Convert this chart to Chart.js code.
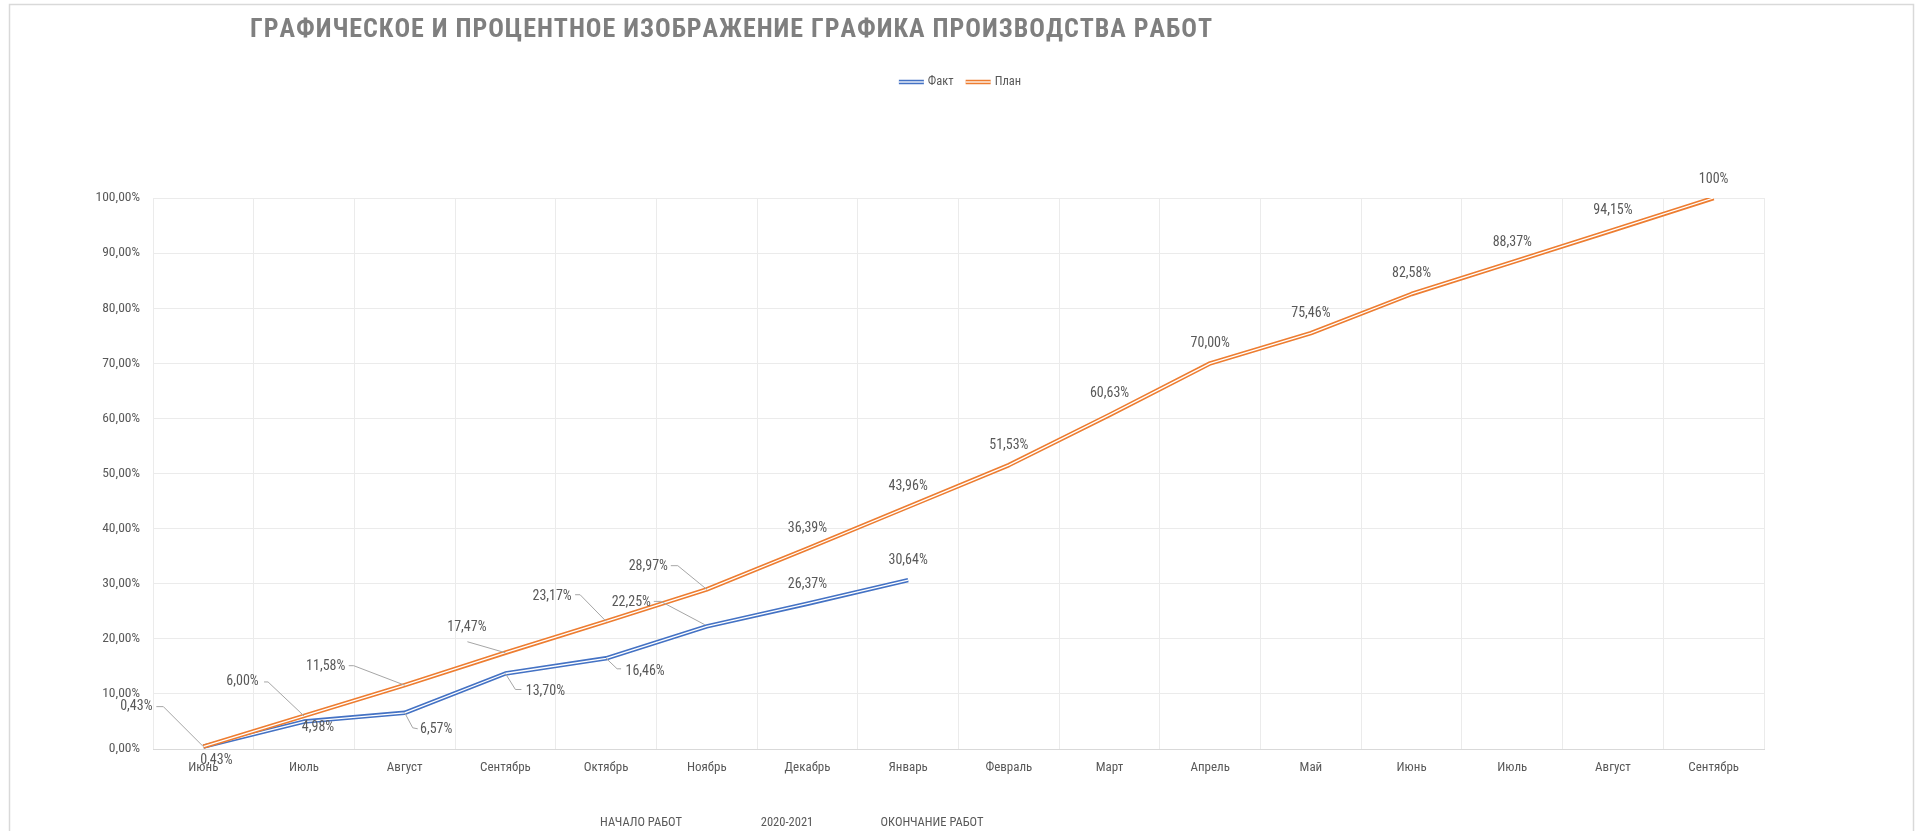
<!DOCTYPE html>
<html>
<head>
<meta charset="utf-8">
<script src="https://cdn.jsdelivr.net/npm/chart.js@4.4.1/dist/chart.umd.min.js"></script>
<style>
  html, body { margin: 0; padding: 0; background: #ffffff; }
  #c { display: block; }
</style>
</head>
<body>
<canvas id="c" width="1919" height="831"></canvas>
<script>
// ---------------- DATA ----------------
const chartTitle = 'ГРАФИЧЕСКОЕ И ПРОЦЕНТНОЕ ИЗОБРАЖЕНИЕ ГРАФИКА ПРОИЗВОДСТВА РАБОТ';
const seriesNames = ['Факт', 'План'];
const categories = ['Июнь', 'Июль', 'Август', 'Сентябрь', 'Октябрь', 'Ноябрь', 'Декабрь', 'Январь',
                    'Февраль', 'Март', 'Апрель', 'Май', 'Июнь', 'Июль', 'Август', 'Сентябрь'];
const factValues = [0.43, 4.98, 6.57, 13.70, 16.46, 22.25, 26.37, 30.64];
const planValues = [0.43, 6.00, 11.58, 17.47, 23.17, 28.97, 36.39, 43.96,
                    51.53, 60.63, 70.00, 75.46, 82.58, 88.37, 94.15, 100];
const yTickMin = 0, yTickMax = 100, yTickStep = 10;
const footerTexts = ['НАЧАЛО РАБОТ', '2020-2021', 'ОКОНЧАНИЕ РАБОТ'];

// ---------------- STYLE / LAYOUT ----------------
const FONT = "'Liberation Sans Narrow', 'Roboto Condensed', 'DejaVu Sans Condensed', Roboto, sans-serif";
const TEXT = '#595959';
const BLUE = '#4472C4';
const ORANGE = '#ED7D31';
const GRID = '#ebebeb';
const LEADER = '#a6a6a6';

// label placement offsets (pixels relative to the point the library computed)
const planLabelPlacement = [
  {dx: -67,   dy: -40,   leader: [[-47, -40], [-40, -40], [0, 0]]},
  {dx: -61.5, dy: -34,   leader: [[-40, -34], [-36, -34], [0, 0]]},
  {dx: -79,   dy: -18.5, leader: [[-56, -19.5], [-51, -19.5], [0, 0]]},
  {dx: -38.5, dy: -25,   leader: [[-38, -11], [0, 0]]},
  {dx: -54,   dy: -24.6, leader: [[-31, -26.6], [-26, -26.6], [0, 0]]},
  {dx: -58.5, dy: -22.7, leader: [[-36, -23.7], [-29, -23.7], [0, 0]]},
  {dx: 0, dy: -20}, {dx: 0, dy: -20}, {dx: 0, dy: -20}, {dx: 0, dy: -21},
  {dx: 0, dy: -20}, {dx: 0, dy: -20}, {dx: 0, dy: -20}, {dx: 0, dy: -20},
  {dx: 0, dy: -20}, {dx: 0, dy: -19}
];
const factLabelPlacement = [
  {dx: 13,    dy: 14},
  {dx: 14,    dy: 6},
  {dx: 31.5,  dy: 17,    leader: [[0, 0], [8, 15], [13, 16]]},
  {dx: 40,    dy: 18,    leader: [[0, 0], [10, 16], [16, 16]]},
  {dx: 39,    dy: 13.4,  leader: [[0, 0], [11, 10.5], [15, 10.5]]},
  {dx: -75.5, dy: -23.7, leader: [[-53, -25], [-46, -25], [-2, -1.7]]},
  {dx: 0, dy: -19},
  {dx: 0, dy: -19.5}
];

function pct(v, decimals) {
  return v.toFixed(decimals).replace('.', ',') + '%';
}
function labelText(v) {
  return v === 100 ? '100%' : pct(v, 2);
}

// ---------------- PLUGINS ----------------
const decorPlugin = {
  id: 'decor',
  beforeDraw(chart) {
    const ctx = chart.ctx;
    ctx.save();
    ctx.fillStyle = '#ffffff';
    ctx.fillRect(0, 0, chart.width, chart.height);
    ctx.strokeStyle = '#d9d9d9';
    ctx.lineWidth = 1.5;
    ctx.strokeRect(9.5, 4.5, 1904, 840);
    ctx.restore();
  },
  afterDraw(chart) {
    const ctx = chart.ctx;
    ctx.save();
    // Title: spread across a fixed width
    ctx.fillStyle = '#7f7f7f';
    ctx.font = "bold 26px " + FONT;
    ctx.textBaseline = 'middle';
    const chars = Array.from(chartTitle);
    const targetW = 962;
    let raw = 0;
    chars.forEach(ch => raw += ctx.measureText(ch).width);
    const spacing = (targetW - raw) / (chars.length - 1);
    let x = 731 - targetW / 2;
    ctx.textAlign = 'left';
    chars.forEach(ch => { ctx.fillText(ch, x, 30); x += ctx.measureText(ch).width + spacing; });

    // Legend (double lines)
    ctx.font = "12.5px " + FONT;
    const items = [{name: seriesNames[0], color: BLUE}, {name: seriesNames[1], color: ORANGE}];
    const sampleW = 25, gapT = 4, gapItem = 12;
    let total = 0;
    items.forEach((it, i) => { total += sampleW + gapT + ctx.measureText(it.name).width + (i ? gapItem : 0); });
    let lx = 960 - total / 2;
    const ly = 82;
    items.forEach((it, i) => {
      if (i) lx += gapItem;
      ctx.lineCap = 'butt';
      ctx.strokeStyle = it.color; ctx.lineWidth = 4.5;
      ctx.beginPath(); ctx.moveTo(lx, ly); ctx.lineTo(lx + sampleW, ly); ctx.stroke();
      ctx.strokeStyle = '#ffffff'; ctx.lineWidth = 1.3;
      ctx.beginPath(); ctx.moveTo(lx, ly); ctx.lineTo(lx + sampleW, ly); ctx.stroke();
      lx += sampleW + gapT;
      ctx.fillStyle = TEXT; ctx.textAlign = 'left';
      ctx.fillText(it.name, lx, ly);
      lx += ctx.measureText(it.name).width;
    });

    // Footer texts
    ctx.font = "12.5px " + FONT;
    ctx.fillStyle = TEXT;
    ctx.textAlign = 'center';
    const footerX = [641, 787, 932];
    footerTexts.forEach((t, i) => ctx.fillText(t, footerX[i], 823));
    ctx.restore();
  }
};

const labelsPlugin = {
  id: 'pointLabels',
  afterDatasetsDraw(chart) {
    const ctx = chart.ctx;
    ctx.save();
    ctx.font = "14px " + FONT;
    ctx.textAlign = 'center';
    ctx.textBaseline = 'middle';
    const sets = [
      {idx: 0, values: factValues, place: factLabelPlacement},
      {idx: 2, values: planValues, place: planLabelPlacement}
    ];
    sets.forEach(s => {
      const meta = chart.getDatasetMeta(s.idx);
      meta.data.forEach((pt, i) => {
        const p = s.place[i] || {dx: 0, dy: -20};
        if (p.leader) {
          ctx.strokeStyle = LEADER; ctx.lineWidth = 1;
          ctx.beginPath();
          p.leader.forEach((q, k) => {
            const X = pt.x + q[0], Y = pt.y + q[1];
            k ? ctx.lineTo(X, Y) : ctx.moveTo(X, Y);
          });
          ctx.stroke();
        }
        ctx.fillStyle = TEXT;
        ctx.fillText(labelText(s.values[i]), pt.x + p.dx, pt.y + p.dy);
      });
    });
    ctx.restore();
  }
};

// ---------------- CHART ----------------
const lineBase = {pointRadius: 0, pointHoverRadius: 0, tension: 0, fill: false, borderCapStyle: 'butt', borderJoinStyle: 'round'};
new Chart(document.getElementById('c'), {
  type: 'line',
  data: {
    labels: categories,
    datasets: [
      Object.assign({label: seriesNames[0], data: factValues, borderColor: BLUE, borderWidth: 4.5, order: 4}, lineBase),
      Object.assign({label: seriesNames[0] + ' ', data: factValues, borderColor: '#ffffff', borderWidth: 1.3, order: 3}, lineBase),
      Object.assign({label: seriesNames[1], data: planValues, borderColor: ORANGE, borderWidth: 4.5, order: 2}, lineBase),
      Object.assign({label: seriesNames[1] + ' ', data: planValues, borderColor: '#ffffff', borderWidth: 1.3, order: 1}, lineBase)
    ]
  },
  options: {
    responsive: false,
    animation: false,
    devicePixelRatio: 1,
    layout: {padding: {top: 198, right: 155, bottom: 0, left: 0}},
    plugins: {legend: {display: false}, title: {display: false}, tooltip: {enabled: false}},
    scales: {
      x: {
        offset: true,
        grid: {offset: true, color: GRID, lineWidth: 1, drawTicks: false},
        border: {display: true, color: '#d9d9d9', width: 1},
        ticks: {color: TEXT, font: {family: FONT, size: 13}, padding: 11, maxRotation: 0, autoSkip: false},
        afterFit(s) { s.height = 82; }
      },
      y: {
        min: yTickMin, max: yTickMax,
        grid: {color: GRID, lineWidth: 1, drawTicks: false},
        border: {display: false},
        ticks: {stepSize: yTickStep, color: TEXT, font: {family: FONT, size: 13.5}, padding: 13,
                callback: v => pct(v, 2)},
        afterFit(s) { s.width = 153; }
      }
    }
  },
  plugins: [decorPlugin, labelsPlugin]
});
</script>
</body>
</html>
